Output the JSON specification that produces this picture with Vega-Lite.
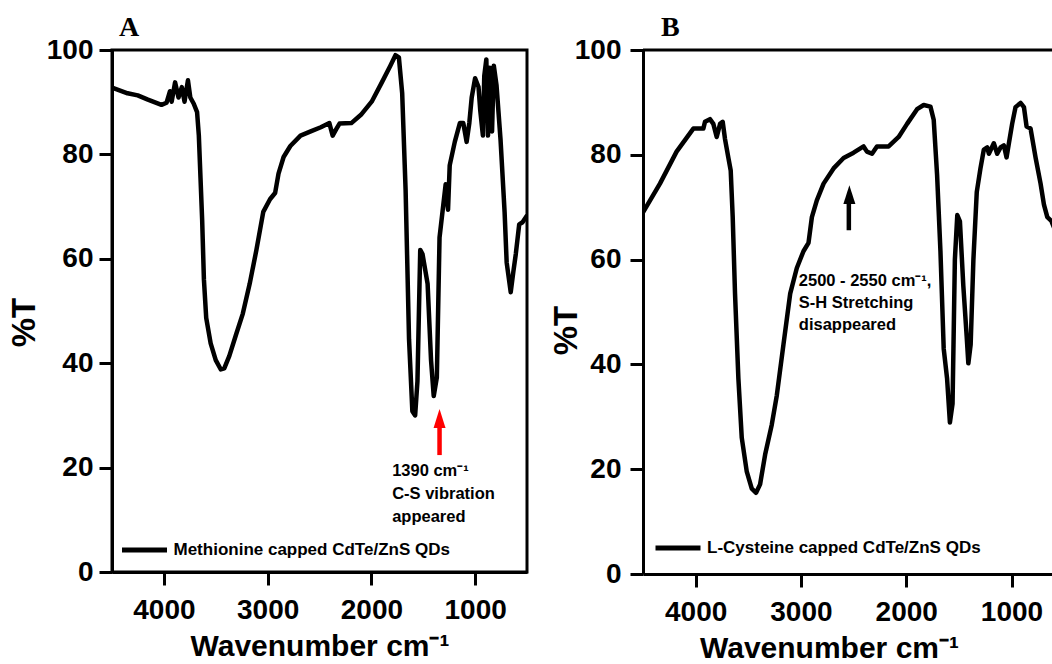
{
  "$schema": "https://vega.github.io/schema/vega-lite/v6.json",
  "background": "white",
  "padding": {"left": 7, "top": 12, "right": 0, "bottom": 0},
  "datasets": {
    "a": [
      {"w":4500,"t":92.8},{"w":4350,"t":91.7},{"w":4252,"t":91.3},{"w":4154,"t":90.5},{"w":4023,"t":89.5},{"w":3974,"t":89.9},{"w":3941,"t":92.1},{"w":3925,"t":90.1},{"w":3892,"t":93.8},{"w":3859,"t":90.9},{"w":3827,"t":92.9},{"w":3801,"t":90.1},{"w":3768,"t":94.2},{"w":3745,"t":90.9},{"w":3712,"t":89.7},{"w":3680,"t":88.1},{"w":3663,"t":83.6},{"w":3647,"t":75.5},{"w":3631,"t":67.4},{"w":3614,"t":56.0},{"w":3592,"t":48.7},{"w":3549,"t":43.8},{"w":3500,"t":40.6},{"w":3451,"t":38.8},{"w":3418,"t":39.0},{"w":3369,"t":41.4},{"w":3304,"t":45.5},{"w":3239,"t":49.5},{"w":3173,"t":55.2},{"w":3108,"t":61.7},{"w":3042,"t":69.0},{"w":2977,"t":71.4},{"w":2928,"t":72.6},{"w":2895,"t":76.3},{"w":2846,"t":79.5},{"w":2781,"t":81.6},{"w":2683,"t":83.6},{"w":2585,"t":84.4},{"w":2487,"t":85.2},{"w":2405,"t":86.0},{"w":2373,"t":83.6},{"w":2340,"t":84.8},{"w":2307,"t":85.9},{"w":2193,"t":86.0},{"w":2095,"t":87.7},{"w":1997,"t":90.1},{"w":1899,"t":93.8},{"w":1817,"t":97.0},{"w":1768,"t":99.0},{"w":1735,"t":98.6},{"w":1703,"t":91.7},{"w":1670,"t":73.1},{"w":1637,"t":44.6},{"w":1605,"t":30.8},{"w":1578,"t":30.0},{"w":1556,"t":36.5},{"w":1529,"t":61.7},{"w":1507,"t":60.9},{"w":1458,"t":55.2},{"w":1425,"t":40.6},{"w":1399,"t":33.7},{"w":1369,"t":37.3},{"w":1343,"t":64.1},{"w":1310,"t":69.8},{"w":1284,"t":74.3},{"w":1261,"t":69.4},{"w":1245,"t":77.9},{"w":1196,"t":82.4},{"w":1147,"t":86.0},{"w":1114,"t":86.0},{"w":1082,"t":82.4},{"w":1056,"t":86.0},{"w":1033,"t":90.9},{"w":1000,"t":94.6},{"w":967,"t":92.9},{"w":951,"t":88.5},{"w":925,"t":83.6},{"w":912,"t":95.0},{"w":892,"t":98.2},{"w":876,"t":83.6},{"w":859,"t":96.6},{"w":837,"t":84.4},{"w":820,"t":97.0},{"w":794,"t":93.3},{"w":755,"t":82.8},{"w":716,"t":69.0},{"w":696,"t":59.3},{"w":657,"t":53.6},{"w":631,"t":57.6},{"w":608,"t":60.9},{"w":575,"t":66.6},{"w":543,"t":67.0},{"w":503,"t":68.2}
    ],
    "b": [
      {"w":4500,"t":69.0},{"w":4339,"t":74.5},{"w":4181,"t":80.6},{"w":4022,"t":85.0},{"w":3927,"t":85.0},{"w":3911,"t":86.3},{"w":3864,"t":86.8},{"w":3832,"t":85.9},{"w":3800,"t":83.4},{"w":3768,"t":85.9},{"w":3743,"t":86.3},{"w":3721,"t":83.0},{"w":3689,"t":79.4},{"w":3667,"t":77.0},{"w":3648,"t":68.1},{"w":3626,"t":53.5},{"w":3594,"t":37.3},{"w":3562,"t":26.0},{"w":3515,"t":19.6},{"w":3467,"t":16.3},{"w":3426,"t":15.5},{"w":3388,"t":17.1},{"w":3340,"t":22.8},{"w":3277,"t":28.5},{"w":3229,"t":34.1},{"w":3166,"t":43.8},{"w":3102,"t":53.5},{"w":3039,"t":58.4},{"w":2976,"t":61.6},{"w":2928,"t":63.2},{"w":2896,"t":68.1},{"w":2849,"t":71.3},{"w":2785,"t":74.5},{"w":2690,"t":77.4},{"w":2595,"t":79.4},{"w":2500,"t":80.4},{"w":2405,"t":81.6},{"w":2373,"t":80.6},{"w":2325,"t":80.2},{"w":2278,"t":81.6},{"w":2167,"t":81.6},{"w":2072,"t":83.4},{"w":1992,"t":85.9},{"w":1897,"t":88.7},{"w":1834,"t":89.5},{"w":1770,"t":89.2},{"w":1739,"t":86.7},{"w":1707,"t":76.2},{"w":1675,"t":61.6},{"w":1644,"t":43.0},{"w":1612,"t":37.3},{"w":1585,"t":28.9},{"w":1560,"t":32.5},{"w":1538,"t":60.0},{"w":1515,"t":68.5},{"w":1490,"t":67.3},{"w":1458,"t":55.1},{"w":1426,"t":45.4},{"w":1410,"t":40.2},{"w":1388,"t":43.8},{"w":1362,"t":60.0},{"w":1330,"t":72.9},{"w":1295,"t":77.4},{"w":1263,"t":81.0},{"w":1231,"t":81.4},{"w":1215,"t":80.2},{"w":1168,"t":82.2},{"w":1136,"t":80.2},{"w":1104,"t":81.4},{"w":1073,"t":81.8},{"w":1047,"t":79.5},{"w":1025,"t":82.2},{"w":994,"t":85.9},{"w":962,"t":89.1},{"w":914,"t":89.9},{"w":882,"t":89.1},{"w":857,"t":85.4},{"w":819,"t":85.0},{"w":771,"t":79.4},{"w":724,"t":74.5},{"w":692,"t":70.5},{"w":660,"t":68.1},{"w":622,"t":67.4},{"w":578,"t":65.2}
    ]
  },
  "config": {
    "font": "Liberation Sans",
    "view": {"stroke": "black", "strokeWidth": 3},
    "axis": {
      "domainColor": "black", "domainWidth": 3,
      "tickColor": "black", "tickWidth": 3, "tickSize": 13,
      "labelFont": "Liberation Sans", "labelFontWeight": "bold", "labelFontSize": 28, "labelColor": "black",
      "titleFont": "Liberation Sans", "titleFontWeight": "bold", "titleFontSize": 30, "titleColor": "black",
      "grid": false, "labelFlush": false, "labelOverlap": false, "format": "d"
    },
    "axisX": {"labelPadding": 11, "titlePadding": 7},
    "axisY": {"labelPadding": 6, "titleFontSize": 33},
    "legend": {
      "orient": "none", "symbolType": "stroke", "symbolStrokeWidth": 5, "symbolSize": 2025,
      "labelFont": "Liberation Sans", "labelFontWeight": "bold", "labelFontSize": 17, "labelColor": "black",
      "labelOffset": 4, "padding": 0, "labelLimit": 500
    },
    "title": {"font": "Liberation Serif", "fontSize": 28, "fontWeight": "bold", "anchor": "start", "frame": "group", "color": "black", "offset": -6}
  },
  "spacing": 21,
  "resolve": {"scale": {"x": "independent", "y": "independent", "color": "independent"}, "legend": {"color": "independent"}},
  "hconcat": [
    {
      "width": 415, "height": 522,
      "title": {"text": "A", "dx": 7},
      "layer": [
        {
          "data": {"name": "a"},
          "mark": {"type": "line", "strokeWidth": 4.5, "strokeJoin": "round", "strokeCap": "round", "clip": true},
          "encoding": {
            "x": {"field": "w", "type": "quantitative", "scale": {"domain": [4500, 500], "nice": false, "zero": false},
                  "axis": {"values": [4000, 3000, 2000, 1000], "title": "Wavenumber cm⁻¹"}},
            "y": {"field": "t", "type": "quantitative", "scale": {"domain": [0, 100], "nice": false},
                  "axis": {"values": [0, 20, 40, 60, 80, 100], "title": "%T", "titlePadding": 4.5, "titleY": 272}},
            "color": {"datum": "Methionine capped CdTe/ZnS QDs", "scale": {"range": ["black"]},
                      "legend": {"title": null, "legendX": 7.5, "legendY": 475}}
          }
        },
        {
          "data": {"values": [{}]},
          "mark": {"type": "text", "align": "left", "baseline": "alphabetic", "font": "Liberation Sans", "fontWeight": "bold", "fontSize": 16.5, "lineHeight": 23, "color": "black",
                   "text": ["1390 cm⁻¹", "C-S vibration", "appeared"]},
          "encoding": {"x": {"datum": 1800, "type": "quantitative"}, "y": {"datum": 18.4, "type": "quantitative"}}
        },
        {
          "data": {"values": [{}]},
          "mark": {"type": "rule", "color": "red", "strokeWidth": 4.5},
          "encoding": {"x": {"datum": 1343, "type": "quantitative"}, "y": {"datum": 22.4, "type": "quantitative"}, "y2": {"datum": 28.0}}
        },
        {
          "data": {"values": [{}]},
          "mark": {"type": "point", "shape": "M-1,1.58L0,-1.58L1,1.58Z", "filled": true, "color": "red", "size": 144, "opacity": 1, "strokeWidth": 0},
          "encoding": {"x": {"datum": 1343, "type": "quantitative"}, "y": {"datum": 29.4, "type": "quantitative"}}
        }
      ]
    },
    {
      "width": 412, "height": 524,
      "view": {"stroke": null},
      "title": {"text": "B", "dx": 18},
      "layer": [
        {
          "data": {"name": "b"},
          "mark": {"type": "line", "strokeWidth": 4.5, "strokeJoin": "round", "strokeCap": "round", "clip": true},
          "encoding": {
            "x": {"field": "w", "type": "quantitative", "scale": {"domain": [4500, 587], "nice": false, "zero": false},
                  "axis": {"values": [4000, 3000, 2000, 1000], "title": "Wavenumber cm⁻¹", "titleX": 186}},
            "y": {"field": "t", "type": "quantitative", "scale": {"domain": [0, 100], "nice": false},
                  "axis": {"values": [0, 20, 40, 60, 80, 100], "title": "%T", "labelPadding": 9, "titlePadding": -9, "titleY": 280}},
            "color": {"datum": "L-Cysteine capped CdTe/ZnS QDs", "scale": {"range": ["black"]},
                      "legend": {"title": null, "legendX": 10, "legendY": 473}}
          }
        },
        {
          "data": {"values": [{}]},
          "mark": {"type": "rule", "color": "black", "strokeWidth": 3},
          "encoding": {"y": {"datum": 100, "type": "quantitative"}}
        },
        {
          "data": {"values": [{}]},
          "mark": {"type": "text", "align": "left", "baseline": "alphabetic", "font": "Liberation Sans", "fontWeight": "bold", "fontSize": 16.5, "lineHeight": 22, "color": "black",
                   "text": ["2500 - 2550 cm⁻¹,", "S-H Stretching", "disappeared"]},
          "encoding": {"x": {"datum": 3020, "type": "quantitative"}, "y": {"datum": 55.0, "type": "quantitative"}}
        },
        {
          "data": {"values": [{}]},
          "mark": {"type": "rule", "color": "black", "strokeWidth": 4.5},
          "encoding": {"x": {"datum": 2545, "type": "quantitative"}, "y": {"datum": 65.6, "type": "quantitative"}, "y2": {"datum": 71.0}}
        },
        {
          "data": {"values": [{}]},
          "mark": {"type": "point", "shape": "M-1,1.58L0,-1.58L1,1.58Z", "filled": true, "color": "black", "size": 144, "opacity": 1, "strokeWidth": 0},
          "encoding": {"x": {"datum": 2540, "type": "quantitative"}, "y": {"datum": 72.4, "type": "quantitative"}}
        }
      ]
    }
  ]
}
